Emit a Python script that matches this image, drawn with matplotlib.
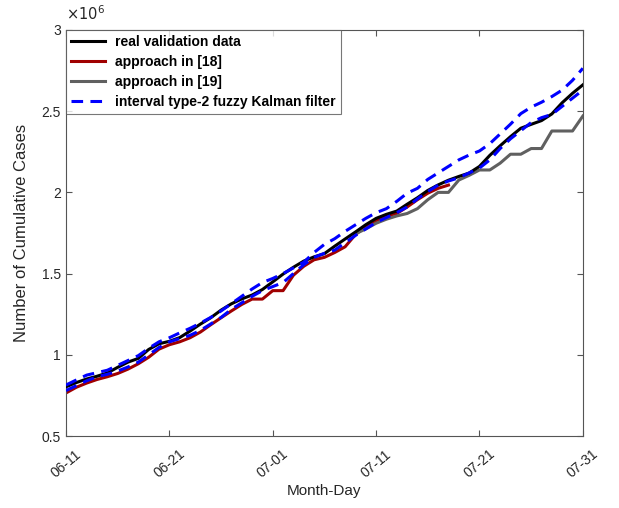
import matplotlib
matplotlib.use("Agg")
import matplotlib.pyplot as plt
from matplotlib.ticker import FuncFormatter

plt.rcParams['font.family'] = ['Liberation Sans', 'DejaVu Sans']

# day index 0 = 06-11, 50 = 07-31 ; values in millions
days = list(range(51))
tick_days = [0, 10, 20, 30, 40, 50]
tick_labels = ['06-11', '06-21', '07-01', '07-11', '07-21', '07-31']

real = [0.803, 0.829, 0.851, 0.868, 0.888, 0.923, 0.955, 0.978, 1.033, 1.068,
        1.083, 1.106, 1.146, 1.189, 1.228, 1.275, 1.314, 1.344, 1.368, 1.402,
        1.449, 1.497, 1.539, 1.577, 1.603, 1.623, 1.669, 1.713, 1.756, 1.801,
        1.840, 1.865, 1.885, 1.927, 1.967, 2.012, 2.046, 2.075, 2.098, 2.119,
        2.160, 2.228, 2.287, 2.343, 2.395, 2.419, 2.442, 2.483, 2.552, 2.610,
        2.662]

# approach in [18]: 06-11 .. 07-18
days_18 = list(range(38))
appr_18 = [0.765, 0.800, 0.826, 0.848, 0.865, 0.885, 0.912, 0.945, 0.985, 1.035,
           1.062, 1.080, 1.105, 1.140, 1.185, 1.228, 1.270, 1.310, 1.343, 1.343,
           1.395, 1.395, 1.490, 1.545, 1.585, 1.600, 1.630, 1.665, 1.740, 1.790,
           1.825, 1.855, 1.870, 1.910, 1.955, 1.995, 2.025, 2.045]

# approach in [19]: 07-09 .. 07-31
days_19 = list(range(28, 51))
appr_19 = [1.745, 1.775, 1.810, 1.835, 1.855, 1.870, 1.900, 1.955, 2.000, 2.000,
           2.076, 2.105, 2.138, 2.138, 2.180, 2.235, 2.235, 2.270, 2.270, 2.378,
           2.378, 2.378, 2.470]

# interval type-2 fuzzy Kalman filter bounds
kf_upper = [0.814, 0.845, 0.875, 0.890, 0.905, 0.935, 0.965, 0.995, 1.040, 1.080,
            1.105, 1.135, 1.163, 1.195, 1.230, 1.270, 1.315, 1.360, 1.405, 1.445,
            1.470, 1.500, 1.535, 1.570, 1.630, 1.680, 1.715, 1.760, 1.800, 1.840,
            1.875, 1.900, 1.945, 1.995, 2.025, 2.080, 2.120, 2.160, 2.200, 2.230,
            2.255, 2.300, 2.360, 2.420, 2.485, 2.525, 2.555, 2.590, 2.630, 2.690,
            2.764]
kf_lower = [0.780, 0.810, 0.840, 0.865, 0.880, 0.900, 0.925, 0.955, 1.000, 1.045,
            1.080, 1.100, 1.120, 1.150, 1.190, 1.230, 1.280, 1.320, 1.360, 1.395,
            1.420, 1.445, 1.500, 1.555, 1.600, 1.625, 1.645, 1.690, 1.735, 1.775,
            1.815, 1.845, 1.875, 1.910, 1.960, 2.005, 2.045, 2.070, 2.090, 2.120,
            2.150, 2.200, 2.270, 2.330, 2.380, 2.430, 2.460, 2.480, 2.530, 2.580,
            2.630]

fig = plt.figure(figsize=(6.19, 5.08), dpi=100)
ax = fig.add_axes([0.1066, 0.1417, 0.835, 0.7993])

lw = 2.2
dash = (0, (3.8, 2.4))
ax.plot(days, real, color='black', lw=lw, label='real validation data', zorder=4)
ax.plot(days_18, appr_18, color='#A00000', lw=lw, label='approach in [18]', zorder=2)
ax.plot(days_19, appr_19, color='#606060', lw=lw, label='approach in [19]', zorder=3)
ax.plot(days, kf_upper, color='blue', lw=lw, ls=dash,
        label='interval type-2 fuzzy Kalman filter', zorder=5)
ax.plot(days, kf_lower, color='blue', lw=lw, ls=dash, zorder=5)

ax.set_xlim(0, 50)
ax.set_ylim(0.5, 3)
ax.set_xticks(tick_days)
ax.set_xticklabels(tick_labels, rotation=40, ha='center', fontsize=10.5)
ax.set_yticks([0.5, 1, 1.5, 2, 2.5, 3])
ax.yaxis.set_major_formatter(FuncFormatter(lambda v, p: f'{v:g}'))

axis_col = '#262626'
for s in ax.spines.values():
    s.set_color('#555555')
    s.set_linewidth(0.8)
ax.tick_params(direction='in', top=True, right=True, length=4, width=0.8,
               colors='#555555', labelcolor=axis_col, labelsize=10)
ax.tick_params(axis='x', pad=8)

ax.set_xlabel('Month-Day', fontsize=11, color=axis_col, labelpad=2)
ax.set_ylabel('Number of Cumulative Cases', fontsize=12, color=axis_col, labelpad=9)
ax.text(0, 1.018, r'$\times10^6$', transform=ax.transAxes, fontsize=10.5,
        color=axis_col, va='bottom', ha='left')

leg = ax.legend(loc='upper left', prop={'weight': 'bold', 'size': 10},
                frameon=True, fancybox=False, handlelength=2.4,
                borderaxespad=0, labelspacing=0.42, borderpad=0.38,
                handletextpad=0.75)
leg.get_frame().set_edgecolor('#555555')
leg.get_frame().set_linewidth(0.8)

fig.savefig('out.png', dpi=100)
